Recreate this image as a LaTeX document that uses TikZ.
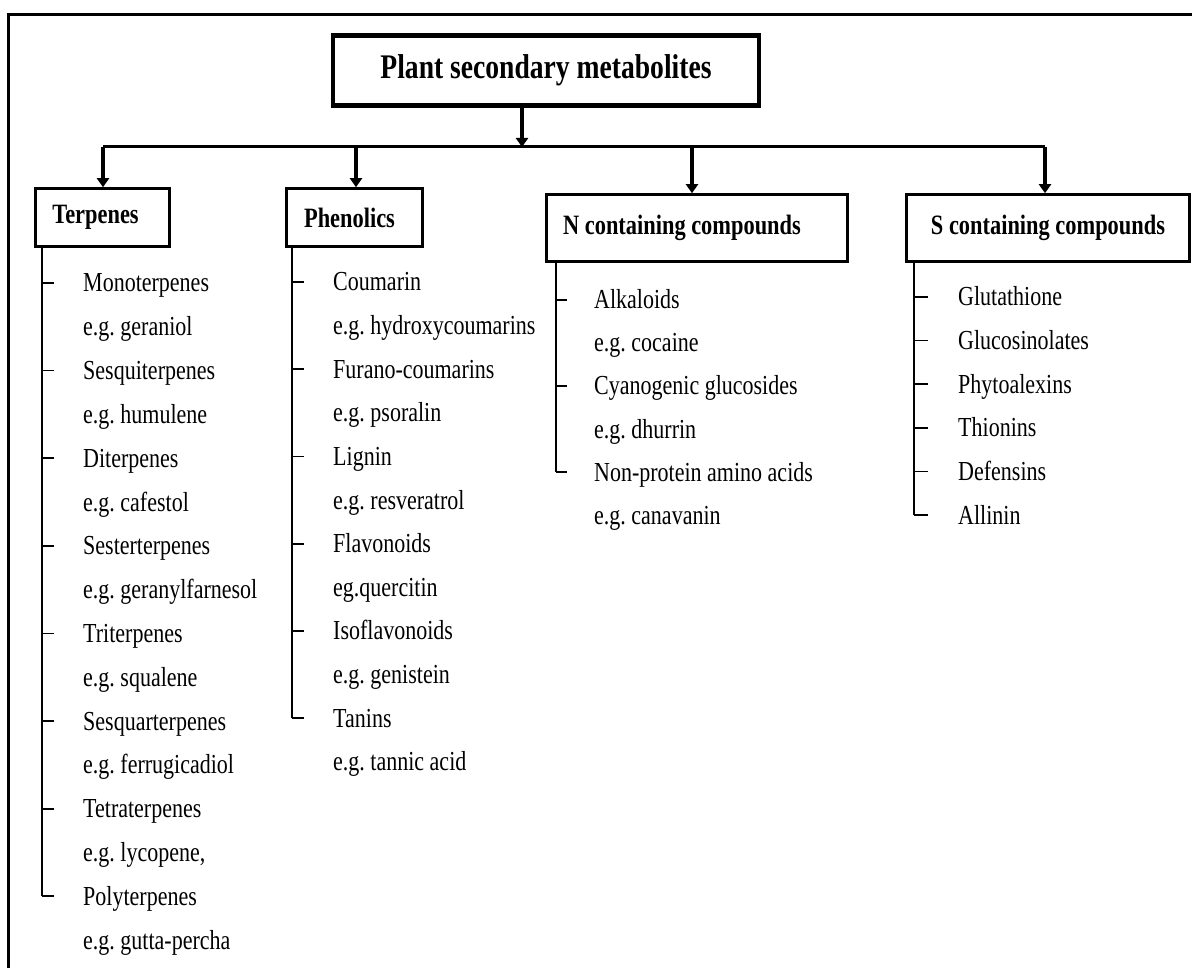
\documentclass[tikz,border=0pt]{standalone}
\usepackage{fontspec}
\setmainfont{Liberation Serif}[FakeStretch=0.8]
\usetikzlibrary{arrows.meta}
\frenchspacing
\begin{document}
\begin{tikzpicture}[x=1pt,y=-1pt,
  titlebox/.style={draw, line width=4.5pt, inner sep=0pt, minimum width=426pt, minimum height=70pt,
    font=\bfseries\fontsize{34.5}{36}\selectfont},
  headbox/.style={draw, line width=2.6pt, inner sep=0pt, font=\bfseries\fontsize{28}{30}\selectfont},
  item/.style={anchor=base west, inner sep=0pt, font=\fontsize{27.5}{30}\selectfont},
  arr/.style={line width=4pt, -{Triangle[width=12pt,length=9pt]}},
  bus/.style={line width=3pt},
  brk/.style={line width=1.8pt},
  frame/.style={line width=2.2pt}
]
\useasboundingbox (0,0) rectangle (1192,968);
% outer frame (left and top edges visible)
\coordinate (fa) at (8.5,968);
\coordinate (fb) at (8.5,14.5);
\coordinate (fc) at (1192,14.5);
\draw[frame] (fa) -- (fb) -- (fc);

% title
\node[titlebox] (top) at (546,70.5) {Plant secondary metabolites};

% category boxes
\node[headbox, minimum width=134pt, minimum height=58pt] (terp) at (102.5,217.5) {\hspace*{-14pt}\raisebox{-3pt}{Terpenes}};
\node[headbox, minimum width=136pt, minimum height=58pt] (phen) at (354.5,217.5) {\hspace*{-10pt}\raisebox{-2pt}{Phenolics}};
\node[headbox, minimum width=301pt, minimum height=67pt] (ncomp) at (697,228) {\hspace*{-30pt}N containing compounds};
\node[headbox, minimum width=283pt, minimum height=67pt] (scomp) at (1048,228) {S containing compounds};

% bus and arrows
\coordinate (b0) at (522,147);
\coordinate (bT) at (103,147);
\coordinate (bP) at (356,147);
\coordinate (bN) at (692,147);
\coordinate (bS) at (1045,147);
\draw[arr] (top.south -| b0) -- (b0);
\draw[bus] (bT) -- (bS);
\draw[arr] (bT) -- (terp.north -| bT);
\draw[arr] (bP) -- (phen.north -| bP);
\draw[arr] (bN) -- (ncomp.north -| bN);
\draw[arr] (bS) -- (scomp.north -| bS);

% Terpenes list
\foreach \txt [count=\i from 0] in {Monoterpenes, e.g. geraniol, Sesquiterpenes, e.g. humulene,
  Diterpenes, e.g. cafestol, Sesterterpenes, e.g. geranylfarnesol, Triterpenes, e.g. squalene,
  Sesquarterpenes, e.g. ferrugicadiol, Tetraterpenes, {e.g. lycopene,}, Polyterpenes, e.g. gutta-percha}{
  \node[item] (t-\i) at (83,283+43.8*\i+9) {\txt};
}
\foreach \i in {0,2,...,14}{
  \coordinate (tk-\i) at (42,283+43.8*\i);
  \draw[brk] (tk-\i) -- ++(12,0);
}
\draw[brk] (terp.south -| tk-14) -- (tk-14);

% Phenolics list
\foreach \txt [count=\i from 0] in {Coumarin, e.g. hydroxycoumarins, Furano-coumarins, e.g. psoralin,
  Lignin, e.g. resveratrol, Flavonoids, eg.quercitin, Isoflavonoids, e.g. genistein, Tanins, e.g. tannic acid}{
  \node[item] (p-\i) at (333,282+43.6*\i+9) {\txt};
}
\foreach \i in {0,2,...,10}{
  \coordinate (pk-\i) at (292,282+43.6*\i);
  \draw[brk] (pk-\i) -- ++(12,0);
}
\draw[brk] (phen.south -| pk-10) -- (pk-10);

% N containing compounds list
\foreach \txt [count=\i from 0] in {Alkaloids, e.g. cocaine, Cyanogenic glucosides, e.g. dhurrin,
  Non-protein amino acids, e.g. canavanin}{
  \node[item] (n-\i) at (594,300+43*\i+9) {\txt};
}
\foreach \i in {0,2,4}{
  \coordinate (nk-\i) at (556,300+43*\i);
  \draw[brk] (nk-\i) -- ++(11,0);
}
\draw[brk] (ncomp.south -| nk-4) -- (nk-4);

% S containing compounds list
\foreach \txt [count=\i from 0] in {Glutathione, Glucosinolates, Phytoalexins, Thionins, Defensins, Allinin}{
  \node[item] (s-\i) at (958,297+43.6*\i+9) {\txt};
}
\foreach \i in {0,...,5}{
  \coordinate (sk-\i) at (914,297+43.6*\i);
  \draw[brk] (sk-\i) -- ++(14,0);
}
\draw[brk] (scomp.south -| sk-5) -- (sk-5);
\end{tikzpicture}
\end{document}
